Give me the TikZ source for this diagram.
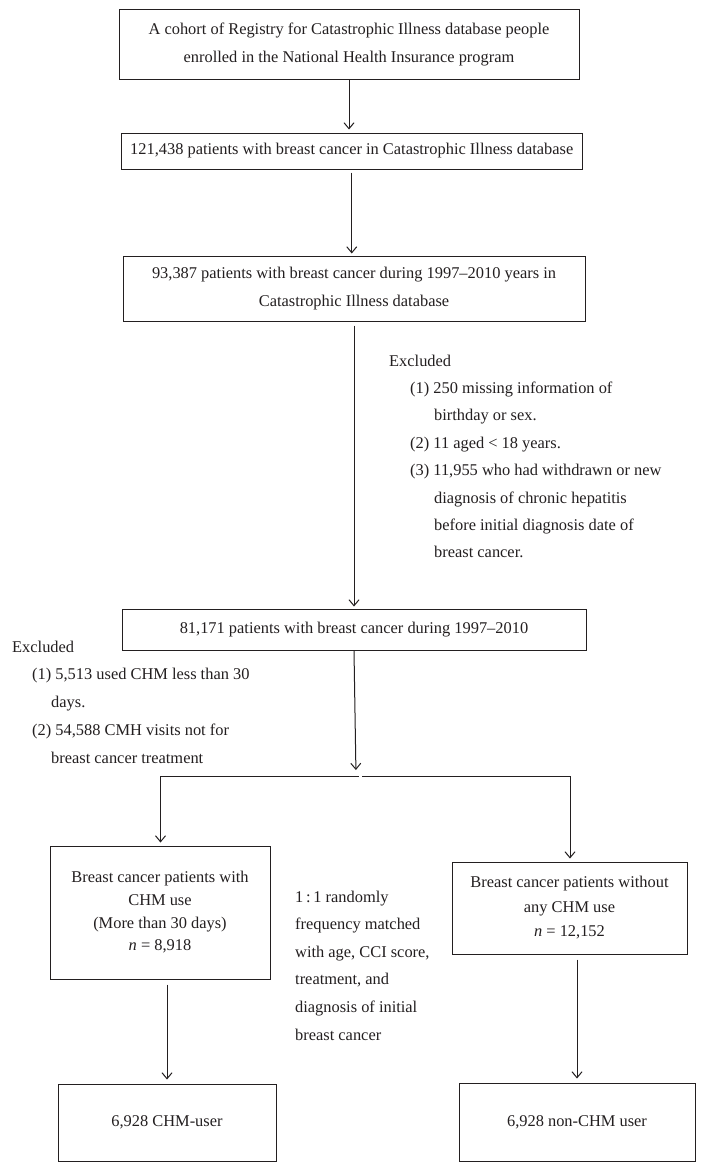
\documentclass[tikz,border=0pt]{standalone}
\usepackage{fontspec}
\setmainfont{Liberation Serif}
\usetikzlibrary{arrows.meta}
\definecolor{ink}{HTML}{231F20}
\begin{document}
\begin{tikzpicture}[x=1pt,y=-1pt,
  every node/.style={text=ink, font=\fontsize{16.4}{28}\selectfont, inner sep=0pt},
  box/.style={draw=ink, line width=1pt, align=center},
  arr/.style={draw=ink, line width=1pt, -{Straight Barb[length=6pt,width=10pt]}},
  ln/.style={draw=ink, line width=1pt},
  note/.style={anchor=base west}]
\useasboundingbox (0,0) rectangle (705,1172);
\fill[white] (0,0) rectangle (705,1172);

% boxes
\node[box, minimum width=460pt, minimum height=69pt] (b1) at (349,44.5)
  {A cohort of Registry for Catastrophic Illness database people\\enrolled in the National Health Insurance program};
\node[box, minimum width=461.5pt, minimum height=36pt] (b2) at (351.75,151)
  {121,438 patients with breast cancer in Catastrophic Illness database};
\node[box, minimum width=462pt, minimum height=65pt] (b3) at (354,288.5)
  {93,387 patients with breast cancer during 1997–2010 years in\\Catastrophic Illness database};
\node[box, minimum width=464pt, minimum height=41pt] (b4) at (354,629.5)
  {81,171 patients with breast cancer during 1997–2010};
\node[box, minimum width=220pt, minimum height=133pt, font=\fontsize{16.4}{22.7}\selectfont] (b5) at (160,912.5)
  {Breast cancer patients with\\CHM use\\(More than 30 days)\\\textit{n} = 8,918};
\node[box, minimum width=235pt, minimum height=92pt, font=\fontsize{16.4}{24.5}\selectfont] (b6) at (569.5,908)
  {Breast cancer patients without\\any CHM use\\\textit{n} = 12,152};
\node[box, minimum width=218pt, minimum height=77pt] (b7) at (167,1122.5) {6,928 CHM-user};
\node[box, minimum width=236pt, minimum height=78pt] (b8) at (577,1122) {6,928 non-CHM user};

% notes
\node[note, font=\fontsize{16.4}{27.4}\selectfont] (exA) at (389,366)
  {\begin{tabular}[t]{@{}l@{}}Excluded\\
   \hspace*{21pt}(1) 250 missing information of\\
   \hspace*{45pt}birthday or sex.\\
   \hspace*{21pt}(2) 11 aged < 18 years.\\
   \hspace*{21pt}(3) 11,955 who had withdrawn or new\\
   \hspace*{45pt}diagnosis of chronic hepatitis\\
   \hspace*{45pt}before initial diagnosis date of\\
   \hspace*{45pt}breast cancer.\end{tabular}};
\node[note, font=\fontsize{16.4}{27.75}\selectfont] (exB) at (12,652)
  {\begin{tabular}[t]{@{}l@{}}Excluded\\
   \hspace*{20pt}(1) 5,513 used CHM less than 30\\
   \hspace*{39pt}days.\\
   \hspace*{20pt}(2) 54,588 CMH visits not for\\
   \hspace*{39pt}breast cancer treatment\end{tabular}};
\node[note, font=\fontsize{16.4}{27.6}\selectfont] (match) at (295,902)
  {\begin{tabular}[t]{@{}l@{}}1\,:\,1 randomly\\
   frequency matched\\
   with age, CCI score,\\
   treatment, and\\
   diagnosis of initial\\
   breast cancer\end{tabular}};

% connectors
\draw[arr, shorten >=3pt] (b1.south) -- (b1.south |- b2.north);
\draw[arr, shorten <=3pt, shorten >=2pt] (b2.south) -- (b2.south |- b3.north);
\draw[arr, shorten <=4pt, shorten >=2pt] (b3.south) -- (b3.south |- b4.north);
\coordinate (J) at (356,776);
\coordinate (L) at (160.5,776);
\coordinate (R) at (570,776);
\draw[arr, shorten >=6pt] (b4.south) -- (J);
\draw[ln] (L) -- ([xshift=3pt]J);
\draw[ln] ([xshift=6pt]J) -- (R);
\draw[arr, shorten >=3pt] (L) -- (L |- b5.north);
\draw[arr, shorten >=3pt] (R) -- (R |- b6.north);
\draw[arr, shorten <=5pt, shorten >=4pt] (b7.north |- b5.south) -- (b7.north);
\draw[arr, shorten <=5pt, shorten >=4pt] (b8.north |- b6.south) -- (b8.north);
\end{tikzpicture}
\end{document}
